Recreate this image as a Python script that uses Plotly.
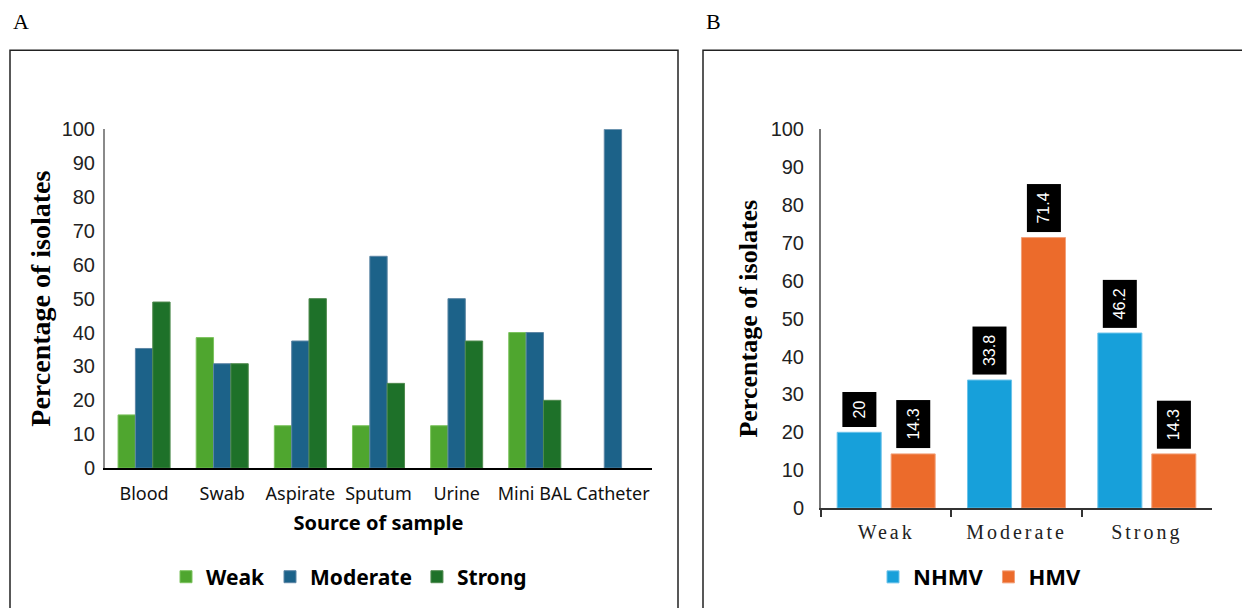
import plotly.graph_objects as go

# ---------------- data ----------------
sources = ["Blood", "Swab", "Aspirate", "Sputum", "Urine", "Mini BAL", "Catheter"]
weak_pct = [15.7, 38.5, 12.5, 12.5, 12.5, 40.0, 0.0]
moderate_pct = [35.3, 30.8, 37.5, 62.5, 50.0, 40.0, 100.0]
strong_pct = [49.0, 30.8, 50.0, 25.0, 37.5, 20.0, 0.0]

biofilm = ["Weak", "Moderate", "Strong"]
nhmv_pct = [20, 33.8, 46.2]
hmv_pct = [14.3, 71.4, 14.3]
nhmv_labels = ["20", "33.8", "46.2"]
hmv_labels = ["14.3", "71.4", "14.3"]

yticks = list(range(0, 101, 10))

# ---------------- layout helpers ----------------
W, H = 1250, 608
# calibration of page placement (screen px -> paper fraction)
X0, WW = 8.0, 1250.0
Y0, HH = 18.75, 586.2


def px(x):
    return (x - X0) / WW


def py(y):
    return 1 - (y - Y0) / HH


def edge_widths(vals):
    # no outline on empty (zero) bars
    return [1 if v > 0 else 0 for v in vals]


SANS = "Noto Sans"
NUM = "Liberation Sans"
SERIF = "Liberation Serif"

fig = go.Figure()

# Panel A bars
fig.add_trace(go.Bar(x=sources, y=weak_pct, name="Weak", xaxis="x", yaxis="y",
                     marker=dict(color="#4FA62F",
                                 line=dict(color="#7CC35E", width=edge_widths(weak_pct))),
                     legend="legend"))
fig.add_trace(go.Bar(x=sources, y=moderate_pct, name="Moderate", xaxis="x", yaxis="y",
                     marker=dict(color="#1C6289",
                                 line=dict(color="#5D86A5", width=edge_widths(moderate_pct))),
                     legend="legend"))
fig.add_trace(go.Bar(x=sources, y=strong_pct, name="Strong", xaxis="x", yaxis="y",
                     marker=dict(color="#1E7129",
                                 line=dict(color="#4F8A4E", width=edge_widths(strong_pct))),
                     legend="legend"))

# Panel B bars (explicit width/offset in category units)
BW = 0.338
CSHIFT = 0.207
fig.add_trace(go.Bar(x=biofilm, y=nhmv_pct, name="NHMV", xaxis="x2", yaxis="y2",
                     width=BW, offset=-CSHIFT - BW / 2,
                     marker=dict(color="#17A0DA", line=dict(color="#6CC3EA", width=1)),
                     legend="legend2"))
fig.add_trace(go.Bar(x=biofilm, y=hmv_pct, name="HMV", xaxis="x2", yaxis="y2",
                     width=BW, offset=CSHIFT - BW / 2,
                     marker=dict(color="#EC6B2B", line=dict(color="#F2A07A", width=1)),
                     legend="legend2"))

annotations = []
# data labels for panel B
for shift, vals, labels in ((-CSHIFT, nhmv_pct, nhmv_labels), (CSHIFT, hmv_pct, hmv_labels)):
    for i, (v, t) in enumerate(zip(vals, labels)):
        annotations.append(dict(x=i + shift, y=v, xref="x2", yref="y2", text=t,
                                showarrow=False, textangle=-90, yanchor="bottom",
                                yshift=5, bgcolor="black", borderpad=8,
                                font=dict(family=NUM, size=16, color="white")))
# panel letters
annotations.append(dict(x=px(11), y=py(21), xref="paper", yref="paper", text="A",
                        showarrow=False, xanchor="left", yanchor="middle",
                        font=dict(family=SERIF, size=22, color="black")))
annotations.append(dict(x=px(704), y=py(21), xref="paper", yref="paper", text="B",
                        showarrow=False, xanchor="left", yanchor="middle",
                        font=dict(family=SERIF, size=22, color="black")))

shapes = [
    dict(type="rect", xref="paper", yref="paper", x0=px(10), x1=px(678),
         y0=py(660), y1=py(50), line=dict(color="#222", width=1.5)),
    dict(type="rect", xref="paper", yref="paper", x0=px(703), x1=px(1290),
         y0=py(660), y1=py(50), line=dict(color="#222", width=1.5)),
]

# letter-spaced category labels for panel B
b_ticktext = ['<span style="letter-spacing:3px">%s</span>' % c for c in biofilm]

fig.update_layout(
    width=W, height=H,
    margin=dict(l=0, r=0, t=0, b=0),
    paper_bgcolor="white", plot_bgcolor="white",
    barmode="group", bargap=0.334, bargroupgap=0,
    showlegend=True,
    annotations=annotations,
    shapes=shapes,
    xaxis=dict(domain=[px(105), px(652)], anchor="y", type="category",
               showline=True, linecolor="black", linewidth=2, ticks="",
               showgrid=False, tickangle=0,
               tickfont=dict(family=SANS, size=18, color="#111"),
               ticklabelstandoff=8,
               title=dict(text="<b>Source of sample</b>", standoff=12,
                          font=dict(family=SANS, size=20, color="black"))),
    yaxis=dict(domain=[py(468), py(129)], anchor="x", range=[0, 100],
               tickvals=yticks, showline=True, linecolor="#8a8a8a", linewidth=2,
               ticks="", showgrid=False, zeroline=False, ticklabelstandoff=4,
               tickfont=dict(family=NUM, size=20, color="#222"),
               title=dict(text="<b>Percentage of isolates</b>", standoff=3,
                          font=dict(family=SERIF, size=28, color="black"))),
    xaxis2=dict(domain=[px(821), px(1212)], anchor="y2", type="category",
                showline=True, linecolor="#333", linewidth=2, ticks="outside",
                tickson="boundaries", ticklen=7, tickcolor="#333", tickwidth=2,
                tickmode="array", tickvals=biofilm, ticktext=b_ticktext,
                showgrid=False, range=[-0.5, 2.5], tickangle=0,
                ticklabelstandoff=5,
                tickfont=dict(family=SERIF, size=20, color="#222")),
    yaxis2=dict(domain=[py(508), py(129)], anchor="x2", range=[0, 100],
                tickvals=yticks, showline=True, linecolor="#777", linewidth=2,
                ticks="", showgrid=False, zeroline=False, ticklabelstandoff=11,
                tickfont=dict(family=NUM, size=20, color="#222"),
                title=dict(text="<b>Percentage of isolates</b>", standoff=6,
                           font=dict(family=SERIF, size=26, color="black"))),
    legend=dict(orientation="h", x=px(349), xanchor="center", y=py(577),
                yanchor="middle",
                font=dict(family=SANS, size=21, color="black", weight="bold"),
                itemclick=False, bgcolor="rgba(0,0,0,0)"),
    legend2=dict(orientation="h", x=px(980), xanchor="center", y=py(577),
                 yanchor="middle",
                 font=dict(family=SANS, size=22, color="black", weight="bold"),
                 itemclick=False, bgcolor="rgba(0,0,0,0)"),
)

fig.write_html("out.html")
